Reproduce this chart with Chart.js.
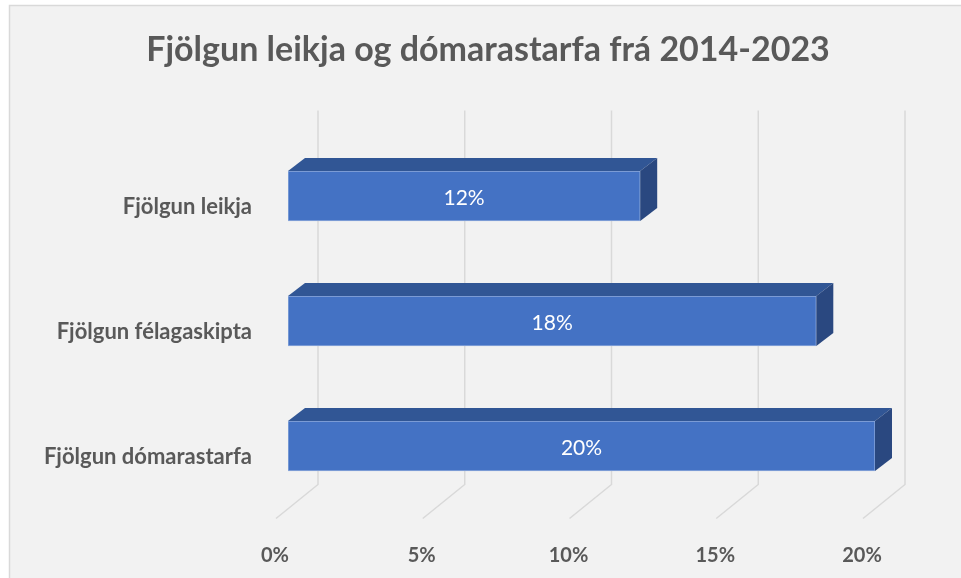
<!DOCTYPE html>
<html>
<head>
<meta charset="utf-8">
<script src="https://cdn.jsdelivr.net/npm/chart.js@4"></script>
<style>
  html, body { margin: 0; padding: 0; background: #fff; }
  #chart { position: absolute; left: 0; top: 0; }
</style>
</head>
<body>
<canvas id="chart" width="961" height="578"></canvas>
<script>
// data
const chartTitle = "Fjölgun leikja og dómarastarfa frá 2014-2023";
const categories = ["Fjölgun leikja", "Fjölgun félagaskipta", "Fjölgun dómarastarfa"];
const growthValues = [12, 18, 20];
const tickValues = [0, 5, 10, 15, 20];

// colours / look (Excel 3D bar)
const colors = {
  panel: "#f2f2f2",
  frame: "#d9d9d9",
  text: "#595959",
  front: "#4472c4",
  edge: "#8eaadb",
  top: "#315695",
  side: "#2a4880",
  grid: "#d9d9d9",
};
const FONT = "Lato, 'Open Sans', sans-serif";
const depth = { dx: 17, dy: 13 };      // bar depth
const wall = { dx: 30, top: -23, bottom: -24 }; // back wall offset from front plane
const floorDrop = { dx: -42, dy: 34 };

const excel3d = {
  id: "excel3d",
  beforeDraw(chart) {
    const { ctx, width, height } = chart;
    ctx.save();
    ctx.fillStyle = colors.panel;
    ctx.fillRect(9, 5, width - 9, height - 5);
    ctx.strokeStyle = colors.frame;
    ctx.lineWidth = 1.5;
    ctx.beginPath();
    ctx.moveTo(9.5, height);
    ctx.lineTo(9.5, 5.5);
    ctx.lineTo(width, 5.5);
    ctx.stroke();

    // title
    ctx.fillStyle = colors.text;
    ctx.font = "bold 34px " + FONT;
    ctx.textAlign = "center";
    ctx.textBaseline = "middle";
    ctx.fillText(chartTitle, 488, 50);
    ctx.restore();
  },
  beforeDatasetsDraw(chart) {
    const { ctx, chartArea } = chart;
    const xs = chart.scales.x;
    ctx.save();
    ctx.strokeStyle = colors.grid;
    ctx.lineWidth = 1.5;
    tickValues.forEach(v => {
      const x = xs.getPixelForValue(v) + wall.dx;
      const yb = chartArea.bottom + wall.bottom;
      ctx.beginPath();
      ctx.moveTo(x, chartArea.top + wall.top);
      ctx.lineTo(x, yb);
      ctx.lineTo(x + floorDrop.dx, yb + floorDrop.dy);
      ctx.stroke();
    });
    ctx.restore();
  },
  afterDatasetsDraw(chart) {
    const { ctx } = chart;
    const meta = chart.getDatasetMeta(0);
    ctx.save();
    meta.data.forEach((bar, i) => {
      const { x, y, base, height } = bar.getProps(["x", "y", "base", "height"], true);
      const top = y - height / 2, bottom = y + height / 2;
      // top face
      ctx.fillStyle = colors.top;
      ctx.beginPath();
      ctx.moveTo(base, top);
      ctx.lineTo(base + depth.dx, top - depth.dy);
      ctx.lineTo(x + depth.dx, top - depth.dy);
      ctx.lineTo(x, top);
      ctx.closePath();
      ctx.fill();
      // side face
      ctx.fillStyle = colors.side;
      ctx.beginPath();
      ctx.moveTo(x, top);
      ctx.lineTo(x + depth.dx, top - depth.dy);
      ctx.lineTo(x + depth.dx, bottom - depth.dy);
      ctx.lineTo(x, bottom);
      ctx.closePath();
      ctx.fill();
      // value label
      ctx.fillStyle = "#ffffff";
      ctx.font = "21px " + FONT;
      ctx.textAlign = "center";
      ctx.textBaseline = "middle";
      ctx.fillText(growthValues[i] + "%", (base + x) / 2, y + 2);
    });
    ctx.restore();
  },
};

new Chart(document.getElementById("chart"), {
  type: "bar",
  data: {
    labels: categories,
    datasets: [{
      data: growthValues,
      backgroundColor: colors.front,
      borderColor: colors.edge,
      borderWidth: 1,
      borderSkipped: false,
      barThickness: 50,
    }],
  },
  options: {
    indexAxis: "y",
    responsive: false,
    animation: false,
    devicePixelRatio: 1,
    layout: { padding: { top: 133.5, right: 86, bottom: 0, left: 0 } },
    plugins: { legend: { display: false }, title: { display: false }, tooltip: { enabled: false } },
    scales: {
      x: {
        min: 0,
        max: 20,
        grid: { display: false },
        border: { display: false },
        afterBuildTicks(scale) { scale.ticks = tickValues.map(v => ({ value: v })); },
        afterFit(scale) { scale.height = 69.5; },
        ticks: {
          padding: 27,
          labelOffset: -13,
          color: colors.text,
          font: { family: FONT, size: 20, weight: "bold" },
          callback: v => v + "%",
        },
      },
      y: {
        grid: { display: false },
        border: { display: false },
        afterFit(scale) { scale.width = 288; },
        ticks: {
          padding: 28,
          labelOffset: 11,
          color: colors.text,
          font: { family: FONT, size: 22, weight: "bold" },
        },
      },
    },
  },
  plugins: [excel3d],
});
</script>
</body>
</html>
